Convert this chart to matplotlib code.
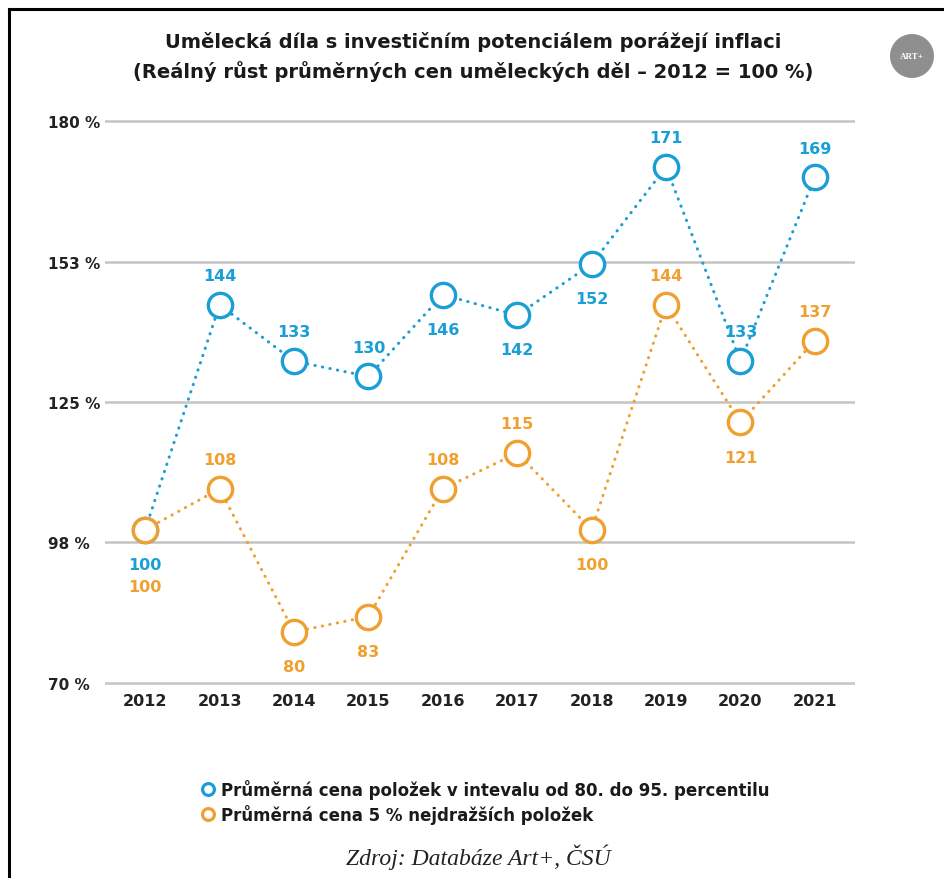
import matplotlib
matplotlib.use("Agg")
import matplotlib.pyplot as plt
from matplotlib.lines import Line2D
from matplotlib.patches import Ellipse

years = [2012, 2013, 2014, 2015, 2016, 2017, 2018, 2019, 2020, 2021]
mid_values = [100, 144, 133, 130, 146, 142, 152, 171, 133, 169]
top_values = [100, 108, 80, 83, 108, 115, 100, 144, 121, 137]
# label placement: +1 above, -1 below
mid_pos = [-1, 1, 1, 1, -1, -1, -1, 1, 1, 1]
top_pos = [-2, 1, -1, -1, 1, 1, -1, 1, -1, 1]
y_ticks = [70, 97.5, 125, 152.5, 180]
y_tick_labels = ["70 %", "98 %", "125 %", "153 %", "180 %"]
series_names = ["Průměrná cena položek v intevalu od 80. do 95. percentilu",
                "Průměrná cena 5 % nejdražších položek"]
title = ("Umělecká díla s investičním potenciálem porážejí inflaci\n"
         "(Reálný růst průměrných cen uměleckých děl – 2012 = 100 %)")
source = "Zdroj: Databáze Art+, ČSÚ"

BLUE = "#1a9ed6"
ORANGE = "#f0a030"
FONT = "DejaVu Sans"

W, H = 944, 879
fig = plt.figure(figsize=(W / 100, H / 100), dpi=100)
fig.patch.set_facecolor("white")

def fx(px):
    return px / W

def fy(py):
    return 1 - py / H

ax = fig.add_axes([fx(105), fy(686), fx(855) - fx(105), fy(120) - fy(686)])
ax.set_xlim(2012 - 0.54, 2021 + 0.54)
ax.set_ylim(69.6, 180.4)
for s in ax.spines.values():
    s.set_visible(False)
ax.set_yticks(y_ticks)
ax.set_yticklabels(y_tick_labels)
ax.set_xticks(years)
ax.set_xticklabels([str(y) for y in years])
ax.tick_params(axis="both", length=0)
ax.tick_params(axis="y", pad=41)
ax.tick_params(axis="x", pad=6)
for lab in ax.get_yticklabels():
    lab.set_ha("left")
    lab.set_fontfamily(FONT)
    lab.set_fontweight("bold")
    lab.set_fontsize(11)
    lab.set_color("#222222")
for lab in ax.get_xticklabels():
    lab.set_fontfamily(FONT)
    lab.set_fontweight("bold")
    lab.set_fontsize(11.5)
    lab.set_color("#222222")
ax.grid(axis="y", color="#c4c4c4", linewidth=1.8)
ax.set_axisbelow(True)

for vals, color, pos in [(mid_values, BLUE, mid_pos), (top_values, ORANGE, top_pos)]:
    ax.plot(years, vals, color=color, linewidth=2.2, linestyle=(0, (0.1, 2.4)),
            dash_capstyle="round", zorder=2)
    ax.plot(years, vals, linestyle="none", marker="o", markersize=17.5,
            markerfacecolor="white", markeredgecolor=color, markeredgewidth=2.4, zorder=3)
    for x, v, p in zip(years, vals, pos):
        if p == 1:
            off = 21
        elif p == -1:
            off = -25
        else:
            off = -41
        ax.annotate(str(v), (x, v), xytext=(0, off), textcoords="offset points",
                    ha="center", va="center", color=color, fontfamily=FONT,
                    fontweight="bold", fontsize=11.5, zorder=4)

fig.text(fx(473), fy(57), title, ha="center", va="center", fontfamily=FONT,
         fontweight="bold", fontsize=14, color="#1a1a1a", linespacing=1.5)

# logo
fig.add_artist(Ellipse((fx(912), fy(57)), 44 / W, 44 / H, transform=fig.transFigure,
                       facecolor="#8f8f8f", edgecolor="none"))
fig.text(fx(912), fy(57), "ART+", ha="center", va="center", color="white",
         fontfamily="Liberation Serif", fontweight="bold", fontsize=6.5)

# legend
for i, (name, color) in enumerate(zip(series_names, [BLUE, ORANGE])):
    yy = fy(790 + i * 25)
    fig.add_artist(Line2D([fx(208)], [yy], marker="o", markersize=8.5,
                          markerfacecolor="white", markeredgecolor=color,
                          markeredgewidth=2.3, transform=fig.transFigure))
    fig.text(fx(221), yy, name, ha="left", va="center", fontfamily=FONT,
             fontweight="bold", fontsize=12, color="#1a1a1a")

fig.text(fx(478), fy(857), source, ha="center", va="center",
         fontfamily="Liberation Serif", style="italic", fontsize=17, color="#222222")

# frame
fig.add_artist(Line2D([fx(9), 1], [fy(10), fy(10)], color="black", linewidth=2.2,
                      transform=fig.transFigure))
fig.add_artist(Line2D([fx(9), fx(9)], [0, fy(10)], color="black", linewidth=2.2,
                      transform=fig.transFigure))

fig.savefig("out.png", dpi=100, facecolor="white")
